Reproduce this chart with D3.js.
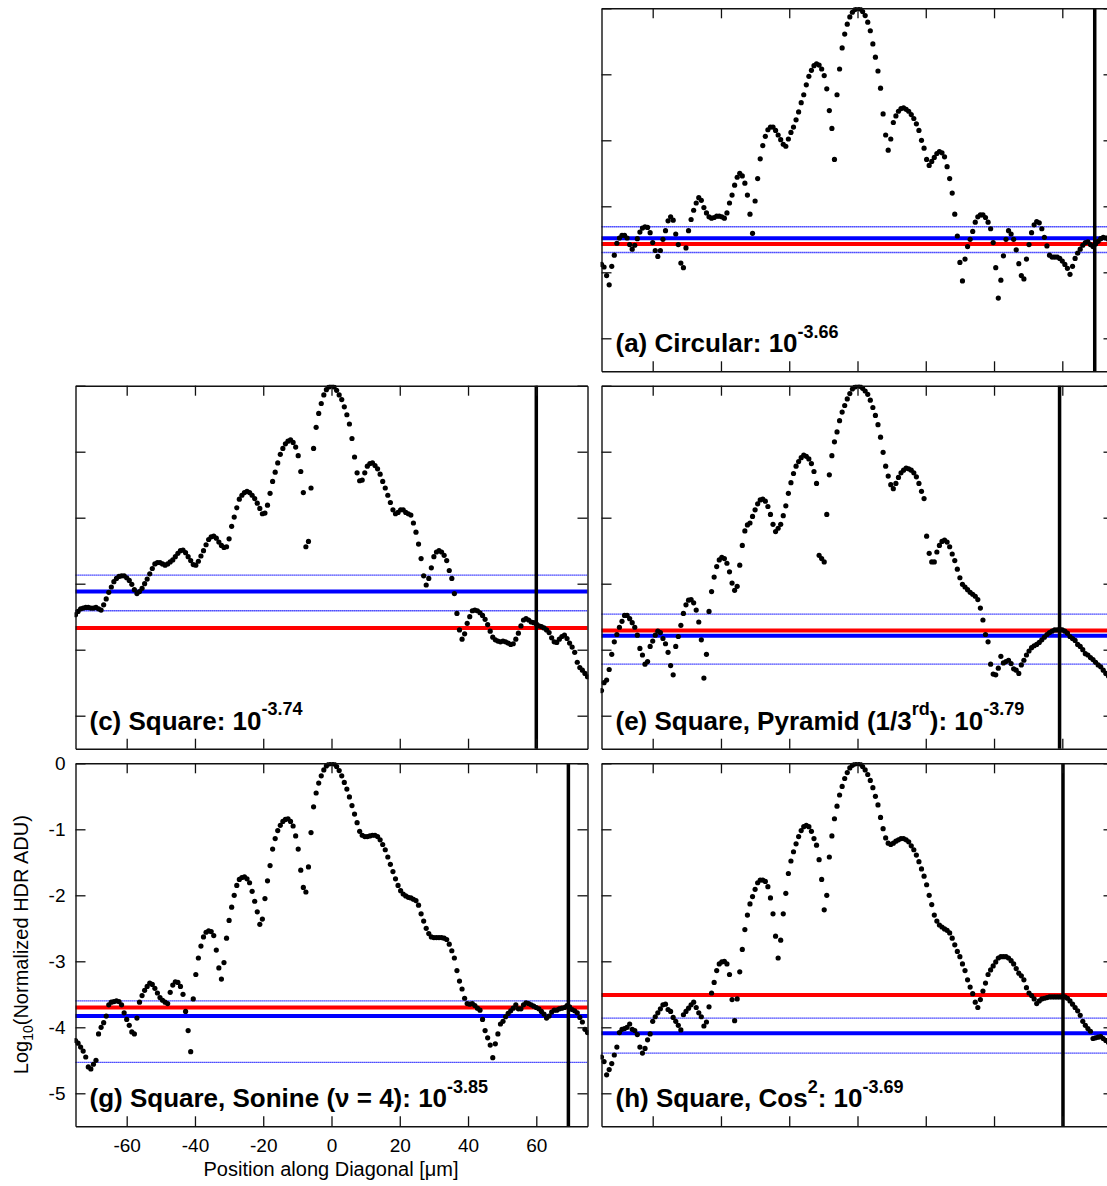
<!DOCTYPE html>
<html>
<head>
<meta charset="utf-8">
<script src="https://cdn.jsdelivr.net/npm/d3@7"></script>
<style>
  body { margin: 0; background: #fff; }
  svg { display: block; font-family: "Liberation Sans", Arial, sans-serif; }
</style>
</head>
<body>
<svg id="chart" width="1107" height="1186"></svg>
<script>
// ---------------- DATA ----------------
// sampling grid along the diagonal (µm)
const positionStart = -75;
const positionStep = 0.75;
const sampleCount = 201;

const xTickValues = [-60, -40, -20, 0, 20, 40, 60];
const yTickValues = [0, -1, -2, -3, -4, -5];
const xTickLabels = ["-60", "-40", "-20", "0", "20", "40", "60"];
const yTickLabels = ["0", "-1", "-2", "-3", "-4", "-5"];

const panelIds = ["a", "c", "e", "g", "h"];

// log10 normalized profile values, one per sample position
const profileA = [
-3.88,-3.92,-4.05,-4.19,-3.91,-3.74,-3.56,-3.48,-3.44,-3.44,
-3.48,-3.58,-3.65,-3.59,-3.49,-3.39,-3.33,-3.31,-3.32,-3.40,
-3.55,-3.67,-3.76,-3.67,-3.50,-3.37,-3.22,-3.16,-3.21,-3.42,
-3.58,-3.86,-3.93,-3.63,-3.37,-3.20,-3.06,-2.95,-2.87,-2.91,
-3.02,-3.10,-3.16,-3.18,-3.17,-3.15,-3.15,-3.16,-3.18,-3.10,
-2.95,-2.83,-2.68,-2.56,-2.50,-2.54,-2.65,-2.83,-3.12,-3.41,
-2.92,-2.58,-2.28,-2.08,-1.94,-1.84,-1.80,-1.80,-1.85,-1.92,
-1.99,-2.06,-2.09,-1.98,-1.88,-1.80,-1.69,-1.57,-1.43,-1.31,
-1.16,-1.03,-0.94,-0.87,-0.84,-0.86,-0.92,-1.02,-1.22,-1.55,
-1.82,-2.29,-1.31,-0.92,-0.60,-0.39,-0.24,-0.13,-0.06,-0.02,
0.00,-0.01,-0.05,-0.11,-0.21,-0.34,-0.54,-0.74,-0.95,-1.21,
-1.60,-1.92,-2.15,-1.98,-1.73,-1.63,-1.56,-1.52,-1.51,-1.53,
-1.56,-1.61,-1.67,-1.75,-1.85,-2.00,-2.12,-2.29,-2.38,-2.32,
-2.26,-2.20,-2.17,-2.19,-2.25,-2.40,-2.58,-2.80,-3.12,-3.45,
-3.85,-4.13,-3.80,-3.61,-3.50,-3.38,-3.24,-3.16,-3.13,-3.13,
-3.17,-3.24,-3.34,-3.55,-3.93,-4.39,-4.12,-3.75,-3.50,-3.37,
-3.42,-3.50,-3.66,-3.87,-4.05,-4.10,-3.80,-3.58,-3.40,-3.28,
-3.23,-3.25,-3.34,-3.47,-3.60,-3.74,-3.77,-3.77,-3.77,-3.79,
-3.83,-3.88,-3.94,-4.03,-3.91,-3.79,-3.71,-3.65,-3.59,-3.55,
-3.54,-3.58,-3.61,-3.57,-3.53,-3.49,-3.47,-3.48,-3.50,-3.52,
-3.55];

const profileC = [
-3.47,-3.42,-3.38,-3.37,-3.36,-3.36,-3.37,-3.37,-3.36,-3.38,
-3.40,-3.32,-3.23,-3.13,-3.05,-2.97,-2.92,-2.89,-2.88,-2.88,
-2.91,-2.95,-3.01,-3.09,-3.15,-3.12,-3.07,-3.00,-2.93,-2.85,
-2.77,-2.70,-2.68,-2.68,-2.70,-2.72,-2.70,-2.67,-2.64,-2.59,
-2.54,-2.50,-2.49,-2.53,-2.59,-2.65,-2.71,-2.72,-2.66,-2.58,
-2.50,-2.41,-2.33,-2.29,-2.28,-2.31,-2.37,-2.42,-2.45,-2.44,
-2.32,-2.13,-1.99,-1.85,-1.72,-1.66,-1.62,-1.60,-1.62,-1.66,
-1.71,-1.78,-1.86,-1.94,-1.93,-1.81,-1.63,-1.45,-1.31,-1.17,
-1.04,-0.95,-0.88,-0.84,-0.82,-0.86,-0.93,-1.06,-1.30,-1.62,
-2.44,-2.36,-1.55,-0.95,-0.63,-0.42,-0.27,-0.14,-0.06,-0.02,
0.00,-0.02,-0.07,-0.14,-0.21,-0.32,-0.44,-0.58,-0.80,-1.08,
-1.32,-1.44,-1.43,-1.32,-1.22,-1.18,-1.17,-1.21,-1.26,-1.34,
-1.45,-1.55,-1.66,-1.77,-1.88,-1.94,-1.92,-1.88,-1.88,-1.92,
-1.94,-1.96,-2.08,-2.22,-2.40,-2.62,-2.88,-3.02,-2.92,-2.76,
-2.59,-2.52,-2.50,-2.52,-2.57,-2.65,-2.80,-2.92,-3.15,-3.45,
-3.70,-3.84,-3.76,-3.60,-3.50,-3.41,-3.40,-3.41,-3.44,-3.48,
-3.54,-3.62,-3.72,-3.81,-3.85,-3.87,-3.88,-3.87,-3.88,-3.90,
-3.92,-3.91,-3.84,-3.75,-3.64,-3.55,-3.53,-3.55,-3.58,-3.59,
-3.61,-3.64,-3.65,-3.67,-3.70,-3.74,-3.82,-3.88,-3.89,-3.84,
-3.80,-3.78,-3.83,-3.90,-3.96,-4.04,-4.19,-4.27,-4.31,-4.36,
-4.41];

const profileE = [
-4.62,-4.50,-4.46,-4.30,-4.07,-3.88,-3.77,-3.66,-3.57,-3.48,
-3.48,-3.53,-3.59,-3.66,-3.78,-3.98,-4.08,-4.22,-4.18,-3.95,
-3.87,-3.78,-3.72,-3.74,-3.83,-3.91,-4.04,-4.24,-4.38,-3.95,
-3.80,-3.63,-3.45,-3.32,-3.25,-3.24,-3.29,-3.40,-3.58,-3.85,
-4.43,-4.07,-3.42,-3.12,-2.90,-2.74,-2.64,-2.60,-2.62,-2.69,
-2.82,-2.99,-3.10,-3.04,-2.72,-2.42,-2.20,-2.11,-2.08,-1.98,
-1.88,-1.79,-1.73,-1.72,-1.75,-1.83,-1.95,-2.10,-2.21,-2.16,
-2.10,-1.97,-1.82,-1.63,-1.47,-1.33,-1.22,-1.15,-1.09,-1.05,
-1.07,-1.11,-1.18,-1.30,-1.48,-2.57,-2.62,-2.67,-1.95,-1.35,
-1.06,-0.85,-0.70,-0.53,-0.40,-0.30,-0.20,-0.12,-0.05,-0.02,
0.00,-0.01,-0.04,-0.08,-0.13,-0.22,-0.33,-0.45,-0.59,-0.78,
-1.01,-1.22,-1.37,-1.50,-1.56,-1.48,-1.39,-1.32,-1.28,-1.25,
-1.26,-1.28,-1.32,-1.38,-1.48,-1.60,-1.71,-2.28,-2.54,-2.67,
-2.67,-2.52,-2.42,-2.36,-2.34,-2.37,-2.44,-2.55,-2.65,-2.78,
-2.91,-3.01,-3.05,-3.09,-3.13,-3.16,-3.19,-3.24,-3.37,-3.55,
-3.77,-3.88,-4.22,-4.37,-4.38,-4.28,-4.10,-4.20,-4.18,-4.16,
-4.21,-4.29,-4.31,-4.36,-4.23,-4.16,-4.08,-4.02,-3.97,-3.94,
-3.92,-3.89,-3.85,-3.81,-3.77,-3.74,-3.72,-3.70,-3.70,-3.69,
-3.70,-3.72,-3.75,-3.80,-3.83,-3.86,-3.92,-3.95,-4.00,-4.06,
-4.08,-4.12,-4.15,-4.19,-4.23,-4.26,-4.31,-4.36,-4.40,-4.43,
-4.46];

const profileG = [
-4.20,-4.24,-4.30,-4.36,-4.45,-4.60,-4.63,-4.56,-4.50,-4.10,
-4.00,-3.93,-3.83,-3.66,-3.62,-3.61,-3.60,-3.61,-3.66,-3.78,
-3.88,-3.97,-4.07,-4.10,-3.86,-3.62,-3.52,-3.44,-3.38,-3.33,
-3.35,-3.41,-3.48,-3.55,-3.59,-3.62,-3.64,-3.47,-3.36,-3.31,
-3.32,-3.38,-3.50,-3.76,-4.05,-4.37,-3.57,-3.20,-2.95,-2.77,
-2.63,-2.56,-2.54,-2.55,-2.61,-2.83,-3.10,-3.27,-3.02,-2.65,
-2.38,-2.18,-2.00,-1.85,-1.76,-1.73,-1.72,-1.75,-1.81,-1.94,
-2.09,-2.25,-2.44,-2.36,-2.05,-1.78,-1.55,-1.30,-1.14,-1.02,
-0.94,-0.88,-0.85,-0.84,-0.88,-0.95,-1.10,-1.30,-1.62,-1.88,
-1.95,-1.57,-1.05,-0.66,-0.45,-0.30,-0.19,-0.10,-0.04,-0.01,
0.00,-0.01,-0.05,-0.11,-0.19,-0.29,-0.39,-0.51,-0.64,-0.77,
-0.90,-1.03,-1.09,-1.11,-1.11,-1.10,-1.09,-1.09,-1.11,-1.16,
-1.23,-1.31,-1.42,-1.53,-1.64,-1.75,-1.85,-1.93,-1.98,-2.01,
-2.03,-2.04,-2.06,-2.08,-2.15,-2.28,-2.39,-2.50,-2.58,-2.63,
-2.64,-2.64,-2.64,-2.64,-2.65,-2.67,-2.74,-2.84,-2.95,-3.14,
-3.30,-3.42,-3.56,-3.64,-3.65,-3.64,-3.67,-3.71,-3.74,-3.88,
-4.05,-4.16,-4.27,-4.46,-4.25,-4.10,-3.95,-3.91,-3.84,-3.79,
-3.75,-3.71,-3.66,-3.72,-3.72,-3.66,-3.63,-3.64,-3.66,-3.68,
-3.70,-3.72,-3.76,-3.80,-3.86,-3.83,-3.77,-3.74,-3.74,-3.72,
-3.71,-3.70,-3.67,-3.69,-3.73,-3.75,-3.78,-3.85,-3.92,-4.03,
-4.08];

const profileH = [
-4.45,-4.52,-4.72,-4.64,-4.55,-4.42,-4.30,-4.08,-4.03,-4.02,
-4.00,-3.95,-4.03,-4.05,-4.11,-4.30,-4.39,-4.32,-4.19,-4.10,
-3.91,-3.84,-3.78,-3.72,-3.66,-3.65,-3.73,-3.76,-3.85,-3.91,
-3.97,-4.04,-3.81,-3.76,-3.71,-3.66,-3.62,-3.70,-3.78,-3.84,
-3.98,-3.92,-3.69,-3.48,-3.32,-3.14,-3.04,-3.01,-3.00,-3.04,
-3.20,-3.58,-3.90,-3.57,-3.16,-2.82,-2.52,-2.30,-2.13,-2.02,
-1.91,-1.81,-1.77,-1.77,-1.79,-1.87,-2.04,-2.28,-2.62,-2.95,
-2.68,-2.28,-1.97,-1.67,-1.48,-1.34,-1.22,-1.11,-1.02,-0.96,
-0.94,-0.96,-1.03,-1.14,-1.24,-1.46,-1.76,-2.22,-2.00,-1.42,
-1.10,-0.84,-0.65,-0.48,-0.35,-0.23,-0.14,-0.07,-0.03,-0.01,
0.00,-0.01,-0.05,-0.10,-0.17,-0.26,-0.37,-0.50,-0.63,-0.82,
-0.99,-1.13,-1.21,-1.23,-1.21,-1.18,-1.16,-1.14,-1.14,-1.16,
-1.19,-1.25,-1.31,-1.39,-1.49,-1.60,-1.71,-1.84,-2.00,-2.14,
-2.30,-2.39,-2.45,-2.48,-2.51,-2.53,-2.57,-2.65,-2.75,-2.85,
-2.93,-3.04,-3.14,-3.28,-3.39,-3.49,-3.62,-3.70,-3.58,-3.45,
-3.33,-3.20,-3.13,-3.07,-3.01,-2.95,-2.93,-2.93,-2.93,-2.95,
-2.99,-3.04,-3.11,-3.18,-3.22,-3.28,-3.40,-3.48,-3.52,-3.57,
-3.64,-3.60,-3.57,-3.56,-3.55,-3.54,-3.54,-3.54,-3.54,-3.54,
-3.54,-3.54,-3.56,-3.60,-3.65,-3.70,-3.75,-3.82,-3.91,-3.97,
-4.02,-4.06,-4.17,-4.16,-4.15,-4.14,-4.17,-4.20,-4.23,-4.26,
-4.28];

// reference levels per panel (order a, c, e, g, h)
const redLevels      = [-3.57, -3.67, -3.71, -3.70, -3.51];
const blueLevels     = [-3.485, -3.12, -3.79, -3.83, -4.09];
const blueBandHigh   = [-3.31, -2.87, -3.46, -3.60, -3.86];
const blueBandLow    = [-3.70, -3.41, -4.22, -4.53, -4.39];
const cutoffPositions = [69.5, 60.0, 59.2, 69.4, 60.2];

// panel titles: [text, superscript?] segments
const panelTitles = [
  [["(a) Circular: 10", false], ["-3.66", true]],
  [["(c) Square: 10", false], ["-3.74", true]],
  [["(e) Square, Pyramid (1/3", false], ["rd", true], ["): 10", false], ["-3.79", true]],
  [["(g) Square, Sonine (\u03bd = 4): 10", false], ["-3.85", true]],
  [["(h) Square, Cos", false], ["2", true], [": 10", false], ["-3.69", true]]
];

const xAxisTitle = "Position along Diagonal [\u03bcm]";
const yAxisTitleParts = ["Log", "10", "(Normalized HDR ADU)"];

// ---------------- DRAWING ----------------
const profiles = [profileA, profileC, profileE, profileG, profileH];
const positions = d3.range(sampleCount).map(i => positionStart + i * positionStep);

const W = 512, H = 363;
const layout = [
  { left: 601.5, top: 8.3,   labels: false },
  { left: 75.5,  top: 385.7, labels: false },
  { left: 601.5, top: 385.7, labels: false },
  { left: 75.5,  top: 763.3, labels: true },
  { left: 601.5, top: 763.3, labels: false }
];

const x = d3.scaleLinear().domain([-75, 75]).range([0, W]);
const y = d3.scaleLinear().domain([-5.5, 0]).range([H, 0]);

const svg = d3.select("#chart");
const defs = svg.append("defs");
defs.append("clipPath").attr("id", "plotclip")
  .append("rect").attr("x", -1).attr("y", -1).attr("width", W + 2).attr("height", H + 2);

const axisColor = "#111";

panelIds.forEach((id, p) => {
  const L = layout[p];
  const g = svg.append("g").attr("transform", `translate(${L.left},${L.top})`);

  const plot = g.append("g").attr("clip-path", "url(#plotclip)");

  // dotted band lines
  [blueBandHigh[p], blueBandLow[p]].forEach(v => {
    plot.append("line")
      .attr("x1", 0).attr("x2", W)
      .attr("y1", y(v)).attr("y2", y(v))
      .attr("stroke", "#0000ff").attr("stroke-width", 1.3)
      .attr("stroke-dasharray", "1.2,0.8");
  });
  // blue and red levels
  plot.append("line")
    .attr("x1", 0).attr("x2", W)
    .attr("y1", y(blueLevels[p])).attr("y2", y(blueLevels[p]))
    .attr("stroke", "#0000ff").attr("stroke-width", 4);
  plot.append("line")
    .attr("x1", 0).attr("x2", W)
    .attr("y1", y(redLevels[p])).attr("y2", y(redLevels[p]))
    .attr("stroke", "#ff0000").attr("stroke-width", 4);

  // cutoff vertical line
  plot.append("line")
    .attr("x1", x(cutoffPositions[p])).attr("x2", x(cutoffPositions[p]))
    .attr("y1", 0).attr("y2", H)
    .attr("stroke", "#000").attr("stroke-width", 3.5);

  // data dots
  plot.selectAll("circle.pt")
    .data(profiles[p].map((v, i) => [positions[i], v]))
    .join("circle")
    .attr("class", "pt")
    .attr("cx", d => x(d[0]))
    .attr("cy", d => y(d[1]))
    .attr("r", 2.6)
    .attr("fill", "#000");

  // axes with inward ticks
  const styleAxis = sel => {
    sel.select(".domain").attr("stroke", axisColor).attr("stroke-width", 1.4);
    sel.selectAll(".tick line").attr("stroke", axisColor).attr("stroke-width", 1.3);
    sel.selectAll(".tick text")
      .attr("fill", "#000")
      .style("font-size", "19px")
      .style("font-family", "'Liberation Sans', Arial, sans-serif");
  };

  const bottom = d3.axisBottom(x).tickValues(xTickValues).tickSizeInner(-10).tickSizeOuter(0).tickPadding(12);
  const top = d3.axisTop(x).tickValues(xTickValues).tickSizeInner(-10).tickSizeOuter(0).tickFormat("");
  const left = d3.axisLeft(y).tickValues(yTickValues).tickSizeInner(-10).tickSizeOuter(0).tickPadding(10);
  const right = d3.axisRight(y).tickValues(yTickValues).tickSizeInner(-10).tickSizeOuter(0).tickFormat("");
  if (!L.labels) { bottom.tickFormat(""); left.tickFormat(""); }
  else {
    bottom.tickFormat((d, i) => xTickLabels[i]);
    left.tickFormat((d, i) => yTickLabels[i]);
  }

  g.append("g").attr("transform", `translate(0,${H})`).call(bottom).call(styleAxis);
  g.append("g").call(top).call(styleAxis);
  g.append("g").call(left).call(styleAxis);
  g.append("g").attr("transform", `translate(${W},0)`).call(right).call(styleAxis);

  // panel title with superscripts
  const t = g.append("text")
    .attr("x", 14).attr("y", 344)
    .attr("font-weight", "bold")
    .style("font-size", "26px")
    .attr("fill", "#000");
  let shifted = false;
  panelTitles[p].forEach(([txt, sup]) => {
    const ts = t.append("tspan").text(txt);
    if (sup && !shifted) { ts.attr("dy", -14.6).style("font-size", "18px"); shifted = true; }
    else if (sup) { ts.style("font-size", "18px"); }
    else if (!sup && shifted) { ts.attr("dy", 14.6); shifted = false; }
  });
});

// axis titles (only on panel g)
svg.append("text")
  .attr("x", 331).attr("y", 1176)
  .attr("text-anchor", "middle")
  .style("font-size", "20px")
  .attr("fill", "#000")
  .text(xAxisTitle);

const yt = svg.append("text")
  .attr("transform", "translate(28,944.7) rotate(-90)")
  .attr("text-anchor", "middle")
  .style("font-size", "20px")
  .attr("fill", "#000");
yt.append("tspan").text(yAxisTitleParts[0]);
yt.append("tspan").attr("dy", 5).style("font-size", "14px").text(yAxisTitleParts[1]);
yt.append("tspan").attr("dy", -5).text(yAxisTitleParts[2]);
</script>
</body>
</html>
